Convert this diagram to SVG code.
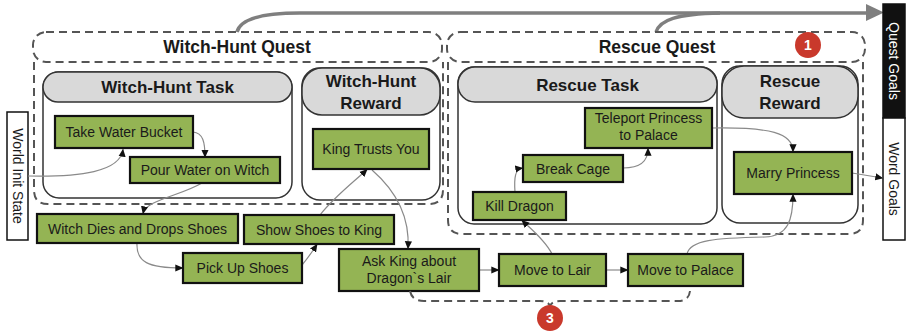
<svg xmlns="http://www.w3.org/2000/svg" width="907" height="335" viewBox="0 0 907 335">
  <style>
    text { font-family: "Liberation Sans", Arial, sans-serif; }
    .quest { fill: none; stroke: #555; stroke-width: 2; stroke-dasharray: 8 5; }
    .box { fill: #fff; stroke: #333; stroke-width: 1.5; }
    .hdr { fill: #d9d9d9; stroke: #333; stroke-width: 1.5; }
    .hdr-t { font-size: 17px; font-weight: bold; fill: #1a1a1a; text-anchor: middle; }
    .q-t { font-size: 17.5px; font-weight: bold; fill: #1a1a1a; text-anchor: middle; }
    .act { fill: #94b454; stroke: #111; stroke-width: 2.2; }
    .act-t { font-size: 14px; fill: #1a1a1a; text-anchor: middle; }
    .edge { fill: none; stroke: #8a8a8a; stroke-width: 1.2; marker-end: url(#tip); }
    .goal { stroke: #111; stroke-width: 1.5; }
    .side-t { font-size: 14px; text-anchor: middle; }
    .big { fill: none; stroke: #7f7f7f; stroke-width: 3.5; }
    .badge { fill: #c9392c; }
    .badge-t { font-size: 14px; font-weight: bold; fill: #fff; text-anchor: middle; }
  </style>
  <defs>
    <marker id="tip" viewBox="0 0 10 10" refX="9" refY="5" markerWidth="8" markerHeight="8" markerUnits="userSpaceOnUse" orient="auto">
      <path d="M0,0.5 L10,5 L0,9.5 z" fill="#111"/>
    </marker>
  </defs>

  <!-- quest goal flow -->
  <g id="quest-goal-arrows">
    <path class="big" d="M237,32 C240,20 258,13 300,13 L868,13"/>
    <path class="big" d="M656,32 C660,20 676,14 720,13"/>
    <polygon points="866,4 884,12.5 866,21" fill="#7f7f7f"/>
  </g>

  <!-- side bars -->
  <g id="world-init-state">
    <rect x="7" y="112" width="21" height="128" fill="#fff" class="goal"/>
    <text class="side-t" transform="translate(17.5,176) rotate(90)" y="5" fill="#1a1a1a">World Init State</text>
  </g>
  <g id="quest-goals">
    <rect x="883" y="4" width="22" height="114" fill="#111" class="goal"/>
    <text class="side-t" transform="translate(894,61) rotate(90)" y="5" fill="#fff">Quest Goals</text>
  </g>
  <g id="word-goals">
    <rect x="883" y="118" width="22" height="122" fill="#fff" class="goal"/>
    <text class="side-t" transform="translate(894,179) rotate(90)" y="5" fill="#1a1a1a">Word Goals</text>
  </g>

  <!-- Witch-Hunt quest -->
  <g id="witch-hunt-quest">
    <rect class="quest" x="33" y="32" width="409" height="30" rx="13"/>
    <path class="quest" d="M34,62 L34,190 Q34,204 48,204 L429,204 Q443,204 443,190 L443,62"/>
    <text class="q-t" x="237" y="53">Witch-Hunt Quest</text>
  </g>
  <g id="witch-hunt-task">
    <rect class="box" x="43" y="72" width="249" height="126" rx="16"/>
    <rect class="hdr" x="43" y="72" width="249" height="30" rx="15"/>
    <text class="hdr-t" x="167.5" y="93">Witch-Hunt Task</text>
  </g>
  <g id="witch-hunt-reward">
    <rect class="box" x="302" y="68" width="138" height="132" rx="18"/>
    <rect class="hdr" x="302" y="68" width="138" height="47" rx="20"/>
    <text class="hdr-t" x="371" y="87">Witch-Hunt</text>
    <text class="hdr-t" x="371" y="109">Reward</text>
  </g>

  <!-- Rescue quest -->
  <g id="rescue-quest">
    <rect class="quest" x="447" y="32" width="418" height="30" rx="13"/>
    <path class="quest" d="M448,62 L448,220 Q448,234 462,234 L849,234 Q863,234 863,220 L863,62"/>
    <text class="q-t" x="657" y="53">Rescue Quest</text>
  </g>
  <g id="rescue-task">
    <rect class="box" x="458" y="67" width="259" height="157" rx="16"/>
    <rect class="hdr" x="458" y="67" width="259" height="35" rx="17"/>
    <text class="hdr-t" x="587.5" y="91">Rescue Task</text>
  </g>
  <g id="rescue-reward">
    <rect class="box" x="722" y="66" width="136" height="157" rx="18"/>
    <rect class="hdr" x="722" y="66" width="136" height="52" rx="22"/>
    <text class="hdr-t" x="790" y="87">Rescue</text>
    <text class="hdr-t" x="790" y="109">Reward</text>
  </g>

  <!-- connectors -->
  <g id="connectors">
    <path class="edge" d="M28,176 C80,177 120,172 123,149.5"/>
    <path class="edge" d="M193,132 C203,133 205,142 205,157"/>
    <path class="edge" d="M202,183 C180,196 146,200 143,213.5"/>
    <path class="edge" d="M137,243 C136,262 148,268 182.5,268"/>
    <path class="edge" d="M302,265 C308,258 312,252 317,244.5"/>
    <path class="edge" d="M320,215 C335,196 355,181 367,169.5"/>
    <path class="edge" d="M372,170 C395,190 410,215 408,248.5"/>
    <path class="edge" d="M479,270 L498.5,270"/>
    <path class="edge" d="M606,270 L627.5,270"/>
    <path class="edge" d="M552,254 C545,240 530,228 522,220.5"/>
    <path class="edge" d="M515,192 C514,178 515,169 522.5,168"/>
    <path class="edge" d="M623,168 C640,168 648,162 648,148.5"/>
    <path class="edge" d="M712,128 C770,127 793,133 793,151.5"/>
    <path class="edge" d="M687,254 C690,240 715,238 765,237 C788,236 793,220 793,194.5"/>
    <path class="edge" d="M852,173 L882.5,178"/>
  </g>

  <!-- actions -->
  <g id="take-water-bucket">
    <rect class="act" x="55" y="116" width="138" height="32"/>
    <text class="act-t" x="124" y="137">Take Water Bucket</text>
  </g>
  <g id="pour-water-on-witch">
    <rect class="act" x="130" y="157" width="150" height="26"/>
    <text class="act-t" x="205" y="175">Pour Water on Witch</text>
  </g>
  <g id="witch-dies-and-drops-shoes">
    <rect class="act" x="37" y="214" width="201" height="29"/>
    <text class="act-t" x="137.5" y="233.5">Witch Dies and Drops Shoes</text>
  </g>
  <g id="show-shoes-to-king">
    <rect class="act" x="244" y="215" width="150" height="29"/>
    <text class="act-t" x="319" y="234.5">Show Shoes to King</text>
  </g>
  <g id="pick-up-shoes">
    <rect class="act" x="183" y="253" width="119" height="30"/>
    <text class="act-t" x="242.5" y="273">Pick Up Shoes</text>
  </g>
  <g id="king-trusts-you">
    <rect class="act" x="313" y="129" width="116" height="40"/>
    <text class="act-t" x="371" y="154">King Trusts You</text>
  </g>
  <g id="ask-king-about-dragons-lair">
    <rect class="act" x="339" y="249" width="140" height="42"/>
    <text class="act-t" x="409" y="266">Ask King about</text>
    <text class="act-t" x="409" y="283">Dragon`s Lair</text>
  </g>
  <g id="move-to-lair">
    <rect class="act" x="499" y="254" width="107" height="32"/>
    <text class="act-t" x="552.5" y="275">Move to Lair</text>
  </g>
  <g id="move-to-palace">
    <rect class="act" x="628" y="254" width="115" height="32"/>
    <text class="act-t" x="685.5" y="275">Move to Palace</text>
  </g>
  <g id="kill-dragon">
    <rect class="act" x="473" y="192" width="93" height="28"/>
    <text class="act-t" x="519.5" y="211">Kill Dragon</text>
  </g>
  <g id="break-cage">
    <rect class="act" x="523" y="155" width="100" height="27"/>
    <text class="act-t" x="573" y="173.5">Break Cage</text>
  </g>
  <g id="teleport-princess-to-palace">
    <rect class="act" x="585" y="108" width="127" height="40"/>
    <text class="act-t" x="648.5" y="123">Teleport Princess</text>
    <text class="act-t" x="648.5" y="140">to Palace</text>
  </g>
  <g id="marry-princess">
    <rect class="act" x="734" y="152" width="118" height="42"/>
    <text class="act-t" x="793" y="178">Marry Princess</text>
  </g>

  <!-- badges -->
  <g id="badge-1">
    <circle class="badge" cx="808" cy="45" r="13"/>
    <text class="badge-t" x="808" y="50">1</text>
  </g>
  <g id="badge-3">
    <path class="quest" d="M410,291 Q412,301 424,301 L540,301 Q548,301 550,306 Q552,301 560,301 L678,301 Q689,301 690,291"/>
    <circle class="badge" cx="550" cy="318" r="13"/>
    <text class="badge-t" x="550" y="323">3</text>
  </g>
</svg>
